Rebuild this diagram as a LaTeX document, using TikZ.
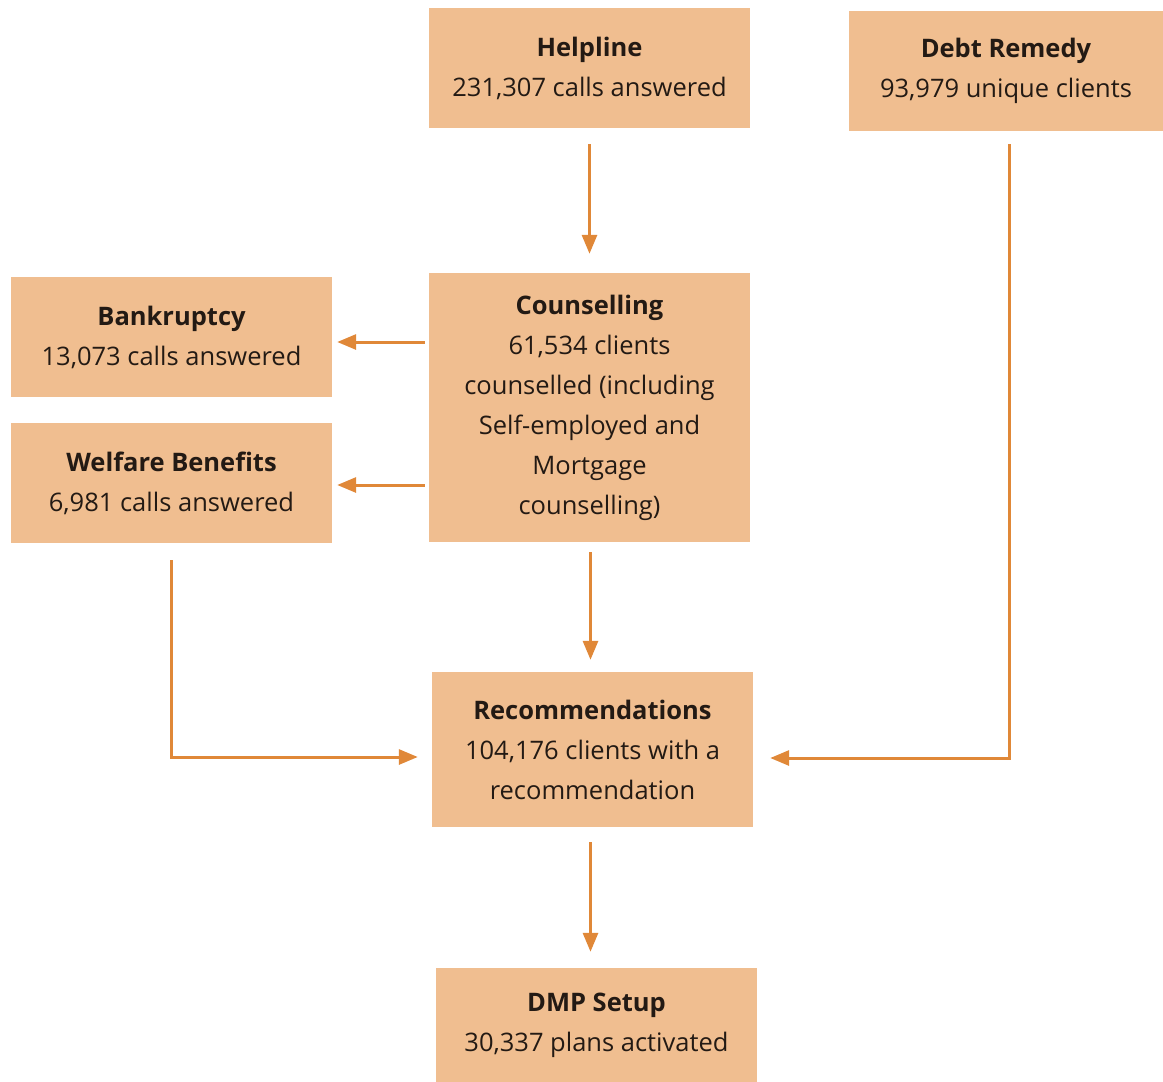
\documentclass[tikz,border=0pt]{standalone}
\usepackage{fontspec}
\setmainfont{Open Sans}
\usetikzlibrary{arrows.meta}
\definecolor{boxfill}{HTML}{F0BE90}
\definecolor{arrcol}{HTML}{E08838}
\definecolor{txt}{HTML}{231A14}
\begin{document}
\begin{tikzpicture}[x=1pt,y=-1pt,
  box/.style={fill=boxfill,draw=none,inner sep=0pt,align=center,text=txt,
    font=\fontsize{25.5}{40}\selectfont},
  arr/.style={draw=arrcol,line width=3pt,-{Triangle[length=19pt,width=15pt]}}]
\useasboundingbox (0,0) rectangle (1163,1082);
\node[box,minimum width=321pt,minimum height=120pt] (help) at (589.5,68) {\textbf{Helpline}\\231,307 calls answered};
\node[box,minimum width=314pt,minimum height=120pt] (debt) at (1006,71) {\textbf{Debt Remedy}\\93,979 unique clients};
\node[box,minimum width=321pt,minimum height=120pt] (bank) at (171.5,337) {\textbf{Bankruptcy}\\13,073 calls answered};
\node[box,minimum width=321pt,minimum height=120pt] (wel) at (171.5,483) {\textbf{Welfare Benefits}\\6,981 calls answered};
\node[box,minimum width=321pt,minimum height=269pt] (couns) at (589.5,407.5) {\textbf{Counselling}\\61,534 clients\\counselled (including\\Self-employed and\\Mortgage\\counselling)};
\node[box,minimum width=321pt,minimum height=155pt] (recs) at (592.5,749.5) {\textbf{Recommendations}\\104,176 clients with a\\recommendation};
\node[box,minimum width=321pt,minimum height=114pt] (dmp) at (596.5,1025) {\textbf{DMP Setup}\\30,337 plans activated};
\draw[arr,shorten <=16pt,shorten >=19pt] (help.south) -- (couns.north);
\draw[arr,shorten <=4pt,shorten >=5pt] ([yshift=-5pt]couns.west |- bank.east) -- ([yshift=-5pt]bank.east);
\draw[arr,shorten <=4pt,shorten >=5pt] ([yshift=-2pt]couns.west |- wel.east) -- ([yshift=-2pt]wel.east);
\draw[arr,shorten <=10pt,shorten >=12pt] ([xshift=1pt]couns.south) -- ([xshift=1pt]couns.south |- recs.north);
\draw[arr,shorten <=17pt,shorten >=14pt] (wel.south) |- ([yshift=-7.5pt]recs.west);
\draw[arr,shorten <=13pt,shorten >=17pt] ([xshift=3pt]debt.south) |- ([yshift=-8.5pt]recs.east);
\draw[arr,shorten <=15pt,shorten >=16pt] ([xshift=-2pt]recs.south) -- ([xshift=-2pt]recs.south |- dmp.north);
\end{tikzpicture}
\end{document}
